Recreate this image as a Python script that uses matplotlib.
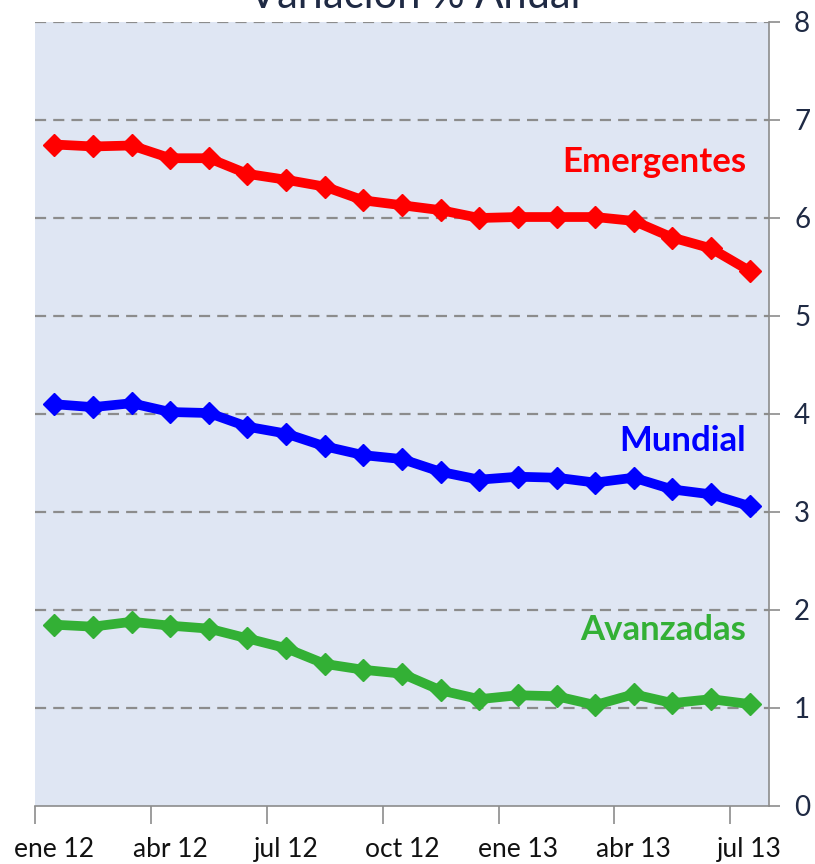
import numpy as np
import matplotlib.pyplot as plt
from matplotlib.ticker import FixedLocator

plt.rcParams['font.family'] = ['Lato', 'DejaVu Sans']

# Datos: variación % anual, ene 12 - jul 13
meses = ['ene 12', 'feb 12', 'mar 12', 'abr 12', 'may 12', 'jun 12', 'jul 12',
         'ago 12', 'sep 12', 'oct 12', 'nov 12', 'dic 12', 'ene 13', 'feb 13',
         'mar 13', 'abr 13', 'may 13', 'jun 13', 'jul 13']
emergentes = [6.75, 6.73, 6.74, 6.61, 6.61, 6.45, 6.39, 6.32, 6.18, 6.13,
              6.08, 6.00, 6.01, 6.01, 6.01, 5.97, 5.80, 5.69, 5.46]
mundial = [4.10, 4.07, 4.11, 4.02, 4.01, 3.87, 3.80, 3.67, 3.58, 3.54,
           3.41, 3.33, 3.36, 3.35, 3.30, 3.35, 3.23, 3.18, 3.06]
avanzadas = [1.85, 1.83, 1.88, 1.84, 1.81, 1.71, 1.61, 1.45, 1.39, 1.35,
             1.18, 1.09, 1.13, 1.12, 1.03, 1.14, 1.05, 1.09, 1.04]

fig = plt.figure(figsize=(8.15, 8.64), dpi=100)
ax = fig.add_axes([35 / 815, 1 - 806 / 864, 734 / 815, 784 / 864])
ax.set_facecolor('#DFE6F3')

x = np.arange(len(meses))
series = [(emergentes, '#FF0000', 'Emergentes', 6.57),
          (mundial, '#0000FF', 'Mundial', 3.72),
          (avanzadas, '#33B035', 'Avanzadas', 1.80)]
for vals, col, nombre, ypos in series:
    ax.plot(x, vals, color=col, linewidth=7, marker='D', markersize=11,
            solid_joinstyle='round', zorder=3)
    ax.text(0.969, ypos, nombre, transform=ax.get_yaxis_transform(),
            ha='right', va='center', color=col, fontsize=25, fontweight='bold')

ax.set_xlim(-0.5, len(meses) - 0.5)
ax.set_ylim(0, 8)

# eje y a la derecha
ax.yaxis.tick_right()
ax.set_yticks(range(0, 9))
ax.tick_params(axis='y', length=8, width=1.2, color='#8C8C8C', pad=10,
               labelsize=20, labelcolor='#1F2A44')
for v in range(1, 9):
    ax.axhline(v, color='#8C8C8C', linestyle=(0, (5, 3.2)), linewidth=1.6,
               zorder=1)

# eje x: etiquetas cada tres meses, marcas en los límites
ax.xaxis.set_major_locator(FixedLocator(x[::3]))
ax.set_xticklabels(meses[::3])
ax.xaxis.set_minor_locator(FixedLocator(x[::3] - 0.5))
ax.tick_params(axis='x', which='major', length=0, pad=22, labelsize=19,
               labelcolor='#111111')
ax.tick_params(axis='x', which='minor', length=13, width=1.2, color='#8C8C8C')

for s in ['left', 'top']:
    ax.spines[s].set_visible(False)
for s in ['right', 'bottom']:
    ax.spines[s].set_color('#8C8C8C')
    ax.spines[s].set_linewidth(1.2)

fig.text(415 / 815, 1 - 8 / 864, 'Variación % Anual', ha='center',
         va='baseline', fontsize=30, color='#1F2A44')

fig.savefig('out.png', dpi=100)
